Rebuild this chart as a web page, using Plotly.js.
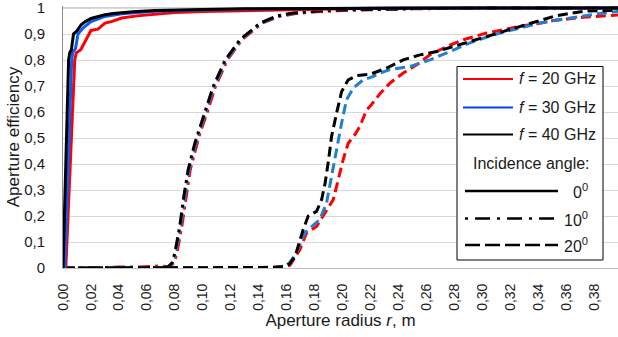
<!DOCTYPE html>
<html>
<head>
<meta charset="utf-8">
<script src="https://cdn.plot.ly/plotly-3.0.1.min.js"></script>
<style>html,body{margin:0;padding:0;background:#fff;}#chart{width:618px;height:337px;}</style>
</head>
<body>
<div id="chart"></div>
<script>
// ---------- data (aperture radius r in m, aperture efficiency) ----------
// incidence angle 0 deg
var r_0deg_20 = [0, 0.002, 0.0084, 0.0095, 0.0127, 0.0167, 0.020, 0.025, 0.030, 0.0346, 0.042, 0.053, 0.066, 0.080, 0.100, 0.134, 0.170, 0.220, 0.260, 0.300, 0.350, 0.397];
var e_0deg_20 = [0, 0.0, 0.80, 0.828, 0.840, 0.878, 0.914, 0.919, 0.942, 0.948, 0.962, 0.970, 0.977, 0.983, 0.987, 0.990, 0.995, 0.999, 1, 1, 1, 1];
var r_0deg_30 = [0, 0.0012, 0.0062, 0.007, 0.009, 0.0107, 0.0143, 0.020, 0.030, 0.042, 0.066, 0.100, 0.150, 0.200, 0.250, 0.300, 0.350, 0.397];
var e_0deg_30 = [0, 0.0, 0.80, 0.830, 0.845, 0.900, 0.923, 0.948, 0.968, 0.978, 0.988, 0.993, 0.997, 0.999, 1, 1, 1, 1];
var r_0deg_40 = [0, 0.004, 0.0048, 0.006, 0.0075, 0.010, 0.013, 0.016, 0.020, 0.025, 0.030, 0.036, 0.042, 0.050, 0.066, 0.080, 0.100, 0.130, 0.160, 0.200, 0.250, 0.300, 0.350, 0.397];
var e_0deg_40 = [0, 0.80, 0.828, 0.840, 0.900, 0.912, 0.936, 0.948, 0.960, 0.968, 0.974, 0.979, 0.983, 0.986, 0.991, 0.993, 0.995, 0.997, 0.998, 0.999, 1, 1, 1, 1];

// incidence angle 10 deg
var r_10deg_20 = [0, 0.020, 0.040, 0.055, 0.070, 0.076, 0.0795, 0.0815, 0.085, 0.088, 0.091, 0.096, 0.098, 0.103, 0.109, 0.1175, 0.128, 0.1425, 0.1545, 0.1665, 0.181, 0.200, 0.220, 0.250, 0.300, 0.350, 0.397];
var e_10deg_20 = [0, 0, 0.004, 0.004, 0.008, 0.004, 0.020, 0.058, 0.160, 0.275, 0.378, 0.480, 0.519, 0.596, 0.698, 0.800, 0.878, 0.942, 0.968, 0.979, 0.986, 0.991, 0.994, 0.997, 1, 1, 1];
var r_10deg_30 = [0, 0.020, 0.040, 0.060, 0.072, 0.0755, 0.0787, 0.0807, 0.0842, 0.0871, 0.0902, 0.095, 0.0974, 0.1021, 0.1081, 0.1167, 0.1272, 0.1417, 0.1537, 0.1657, 0.180, 0.200, 0.220, 0.250, 0.300, 0.350, 0.397];
var e_10deg_30 = [0, 0, 0, 0.002, 0.003, 0.004, 0.020, 0.058, 0.160, 0.275, 0.378, 0.480, 0.519, 0.596, 0.698, 0.800, 0.878, 0.942, 0.970, 0.981, 0.988, 0.993, 0.996, 0.998, 1, 1, 1];
var r_10deg_40 = [0, 0.020, 0.040, 0.060, 0.071, 0.075, 0.078, 0.080, 0.0835, 0.0864, 0.0895, 0.0943, 0.0967, 0.1014, 0.1074, 0.116, 0.1265, 0.141, 0.153, 0.165, 0.180, 0.200, 0.220, 0.250, 0.300, 0.350, 0.397];
var e_10deg_40 = [0, 0, 0, 0.001, 0.002, 0.004, 0.020, 0.058, 0.160, 0.275, 0.378, 0.480, 0.519, 0.596, 0.698, 0.800, 0.878, 0.942, 0.970, 0.981, 0.988, 0.993, 0.996, 0.998, 1, 1, 1];

// incidence angle 20 deg
var r_20deg_20 = [0, 0.050, 0.100, 0.150, 0.158, 0.1623, 0.1694, 0.1742, 0.1814, 0.1873, 0.1933, 0.1969, 0.2004, 0.204, 0.2088, 0.2124, 0.2172, 0.2195, 0.2267, 0.2338, 0.2434, 0.253, 0.2625, 0.2745, 0.2863, 0.303, 0.315, 0.327, 0.339, 0.351, 0.3627, 0.3746, 0.397];
var e_20deg_20 = [0, 0, 0, 0.003, 0.006, 0.010, 0.070, 0.135, 0.160, 0.211, 0.263, 0.340, 0.417, 0.480, 0.513, 0.545, 0.609, 0.621, 0.670, 0.711, 0.750, 0.782, 0.820, 0.852, 0.878, 0.904, 0.917, 0.930, 0.940, 0.952, 0.959, 0.966, 0.973];
var r_20deg_30 = [0, 0.050, 0.100, 0.150, 0.158, 0.162, 0.167, 0.173, 0.178, 0.1837, 0.1885, 0.192, 0.1957, 0.1993, 0.2028, 0.2076, 0.2148, 0.222, 0.2267, 0.2338, 0.248, 0.2625, 0.277, 0.291, 0.303, 0.315, 0.327, 0.339, 0.351, 0.3627, 0.3746, 0.3865, 0.397];
var e_20deg_30 = [0, 0, 0, 0.002, 0.005, 0.020, 0.058, 0.135, 0.160, 0.186, 0.250, 0.352, 0.455, 0.558, 0.647, 0.692, 0.724, 0.737, 0.750, 0.763, 0.775, 0.801, 0.833, 0.866, 0.888, 0.908, 0.923, 0.940, 0.952, 0.962, 0.970, 0.981, 0.987];
var r_20deg_40 = [0, 0.050, 0.100, 0.150, 0.158, 0.162, 0.166, 0.1718, 0.1754, 0.1814, 0.185, 0.1875, 0.190, 0.1921, 0.1957, 0.1993, 0.204, 0.210, 0.2195, 0.2315, 0.2434, 0.2553, 0.2673, 0.279, 0.291, 0.303, 0.315, 0.327, 0.339, 0.351, 0.3627, 0.3746, 0.3865, 0.397];
var e_20deg_40 = [0, 0, 0, 0.002, 0.005, 0.015, 0.045, 0.147, 0.200, 0.218, 0.263, 0.327, 0.417, 0.506, 0.596, 0.679, 0.724, 0.740, 0.745, 0.769, 0.801, 0.820, 0.833, 0.852, 0.872, 0.892, 0.910, 0.930, 0.948, 0.968, 0.980, 0.989, 0.990, 0.993];

var xTickVals = [0,0.02,0.04,0.06,0.08,0.10,0.12,0.14,0.16,0.18,0.20,0.22,0.24,0.26,0.28,0.30,0.32,0.34,0.36,0.38];
var yTickVals = [0,0.1,0.2,0.3,0.4,0.5,0.6,0.7,0.8,0.9,1];
var yTickText = ['0','0,1','0,2','0,3','0,4','0,5','0,6','0,7','0,8','0,9','1'];
var freqLabels = ['<i>f</i> = 20 GHz', '<i>f</i> = 30 GHz', '<i>f</i> = 40 GHz'];
var angleLabels = ['0<sup>0</sup>', '10<sup>0</sup>', '20<sup>0</sup>'];

// ---------- styles ----------
var RED = '#ff0000', BLUE_SOLID = '#0a5cf5', BLUE_DASH = '#1f7fd0', BLACK = '#000000';
var DASH20 = '10px,5px';
var DASH10 = '12px,5px,3px,5px';
var LW = 3;

function tr(x, y, color, dash) {
  return {x: x, y: y, type: 'scatter', mode: 'lines', showlegend: false, hoverinfo: 'skip',
          line: {color: color, width: LW, dash: dash}};
}

var data = [
  tr(r_10deg_20, e_10deg_20, RED, DASH10),
  tr(r_10deg_30, e_10deg_30, BLUE_DASH, DASH10),
  tr(r_10deg_40, e_10deg_40, BLACK, DASH10),
  tr(r_20deg_20, e_20deg_20, RED, DASH20),
  tr(r_20deg_30, e_20deg_30, BLUE_DASH, DASH20),
  tr(r_20deg_40, e_20deg_40, BLACK, DASH20),
  tr(r_0deg_20, e_0deg_20, RED, 'solid'),
  tr(r_0deg_30, e_0deg_30, BLUE_SOLID, 'solid'),
  tr(r_0deg_40, e_0deg_40, BLACK, 'solid')
];

// ---------- layout ----------
var W = 618, H = 337, ML = 63, MR = 0, MT = 6, MB = 69;
var PW = W - ML - MR, PH = H - MT - MB;
function px(x) { return (x - ML) / PW; }
function py(y) { return (H - MB - y) / PH; }

var FONT = 'Liberation Sans, Arial, sans-serif';
var TXT = '#1a1a1a';

var shapes = [
  {type: 'line', xref: 'paper', yref: 'y', x0: 0, x1: 1, y0: 1, y1: 1, line: {color: '#8c8c8c', width: 1}, layer: 'below'},
  {type: 'rect', xref: 'paper', yref: 'paper', x0: px(457), x1: px(603), y0: py(260), y1: py(66.5),
   line: {color: '#000', width: 1}, fillcolor: '#ffffff', layer: 'above'}
];
var annotations = [];
var fColors = [RED, '#0040ff', BLACK];
var fY = [79, 107.5, 134.5];
for (var i = 0; i < 3; i++) {
  shapes.push({type: 'line', xref: 'paper', yref: 'paper', x0: px(463), x1: px(513), y0: py(fY[i]), y1: py(fY[i]),
               line: {color: fColors[i], width: 2}, layer: 'above'});
  annotations.push({xref: 'paper', yref: 'paper', x: px(598), y: py(fY[i]), xanchor: 'right', yanchor: 'middle',
                    text: freqLabels[i], showarrow: false, font: {family: FONT, size: 16, color: TXT}});
}
annotations.push({xref: 'paper', yref: 'paper', x: px(531), y: py(163), xanchor: 'center', yanchor: 'middle',
                  text: 'Incidence angle:', showarrow: false, font: {family: FONT, size: 16, color: TXT}});
var aY = [191, 218.5, 245];
var aDash = ['solid', '3px,7px,15px,7px', '15px,5px'];
for (var j = 0; j < 3; j++) {
  shapes.push({type: 'line', xref: 'paper', yref: 'paper', x0: px(465), x1: px(558), y0: py(aY[j]), y1: py(aY[j]),
               line: {color: BLACK, width: 2.5, dash: aDash[j]}, layer: 'above'});
  annotations.push({xref: 'paper', yref: 'paper', x: px(590), y: py(aY[j]), xanchor: 'right', yanchor: 'middle',
                    text: angleLabels[j], showarrow: false, font: {family: FONT, size: 16, color: TXT}});
}

var layout = {
  width: W, height: H,
  margin: {l: ML, r: MR, t: MT, b: MB, pad: 0},
  paper_bgcolor: '#fff', plot_bgcolor: '#fff',
  separators: ',.',
  showlegend: false,
  font: {family: FONT, color: TXT, size: 14},
  xaxis: {
    range: [0, 0.397], tickmode: 'array', tickvals: xTickVals, tickformat: '.2f', tickangle: -90,
    showgrid: false, zeroline: false, showline: true, linecolor: '#bfbfbf', linewidth: 1,
    ticks: '', ticklabelstandoff: 9, ticklabeloverflow: 'allow', tickfont: {family: FONT, size: 14, color: TXT},
    title: {text: 'Aperture radius <i>r</i>, m', font: {family: FONT, size: 17, color: TXT}, standoff: 0},
    automargin: false, fixedrange: true
  },
  yaxis: {
    range: [0, 1.008], tickmode: 'array', tickvals: yTickVals, ticktext: yTickText,
    showgrid: true, gridcolor: '#d9d9d9', gridwidth: 1, zeroline: false,
    showline: true, linecolor: '#8c8c8c', linewidth: 1,
    ticks: '', ticklabelstandoff: 14, ticklabeloverflow: 'allow', tickfont: {family: FONT, size: 15, color: TXT},
    title: {text: 'Aperture efficiency', font: {family: FONT, size: 17, color: TXT}, standoff: 0},
    automargin: false, fixedrange: true
  },
  shapes: shapes,
  annotations: annotations
};

Plotly.newPlot('chart', data, layout, {staticPlot: true, displayModeBar: false});
</script>
</body>
</html>
